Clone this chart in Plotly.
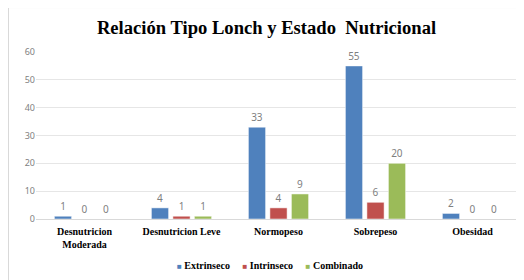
import plotly.graph_objects as go

categories = ["Desnutricion<br>Moderada", "Desnutricion Leve", "Normopeso", "Sobrepeso", "Obesidad"]
extrinseco = [1, 4, 33, 55, 2]
intrinseco = [0, 1, 4, 6, 0]
combinado = [0, 1, 9, 20, 0]
y_ticks = [0, 10, 20, 30, 40, 50, 60]

series = [
    ("Extrinseco", extrinseco, "#4F81BD"),
    ("Intrinseco", intrinseco, "#C0504D"),
    ("Combinado", combinado, "#9BBB59"),
]

fig = go.Figure()
for name, vals, color in series:
    fig.add_trace(go.Bar(
        x=categories, y=vals, name=name,
        marker=dict(color=color, line=dict(color="white", width=0.5)),
        text=[str(v) for v in vals], textposition="outside",
        textfont=dict(family="Noto Sans, Liberation Sans, sans-serif", size=10, color="#7f7f7f"),
        cliponaxis=False, showlegend=False,
    ))

legend_text = "&nbsp;&nbsp;&nbsp;&nbsp;&nbsp;".join(
    f"<span style='color:{c};font-size:8px'>■</span>&nbsp;{n}" for n, _, c in series
)

fig.update_layout(
    width=516, height=272,
    margin=dict(l=28, r=3, t=44, b=61),
    paper_bgcolor="white", plot_bgcolor="white",
    barmode="group", bargap=0.335, bargroupgap=0.2,
    title=dict(text="Relación Tipo Lonch y Estado\u00a0 Nutricional",
               x=0.501, xanchor="center", y=1 - 19/272, yanchor="middle",
               font=dict(family="Liberation Serif, Times New Roman, serif", size=18.6, color="black", weight="bold")),
    xaxis=dict(tickfont=dict(family="Liberation Serif, serif", size=10, color="black", weight="bold"),
               showline=True, linecolor="#d9d9d9", linewidth=1, ticks="", showgrid=False, automargin=False,
               ticklabelstandoff=3),
    yaxis=dict(range=[0, 60], tickvals=y_ticks, showgrid=True, gridcolor="#e6e6e6", gridwidth=1,
               zeroline=False, showline=False, ticks="", automargin=False,
               tickfont=dict(family="Noto Sans, Liberation Sans, sans-serif", size=9, color="#7f7f7f")),
    annotations=[dict(text=legend_text, xref="paper", yref="paper", x=0.482, y=-0.281,
                      xanchor="center", yanchor="middle", showarrow=False,
                      font=dict(family="Liberation Serif, serif", size=10, color="black", weight="bold"))],
    shapes=[dict(type="rect", xref="paper", yref="paper", x0=-0.0567, x1=1.2, y0=-0.5, y1=1.266,
                 line=dict(color="#d9d9d9", width=1), fillcolor="rgba(0,0,0,0)", layer="below")],
)

fig.write_html("out.html")
